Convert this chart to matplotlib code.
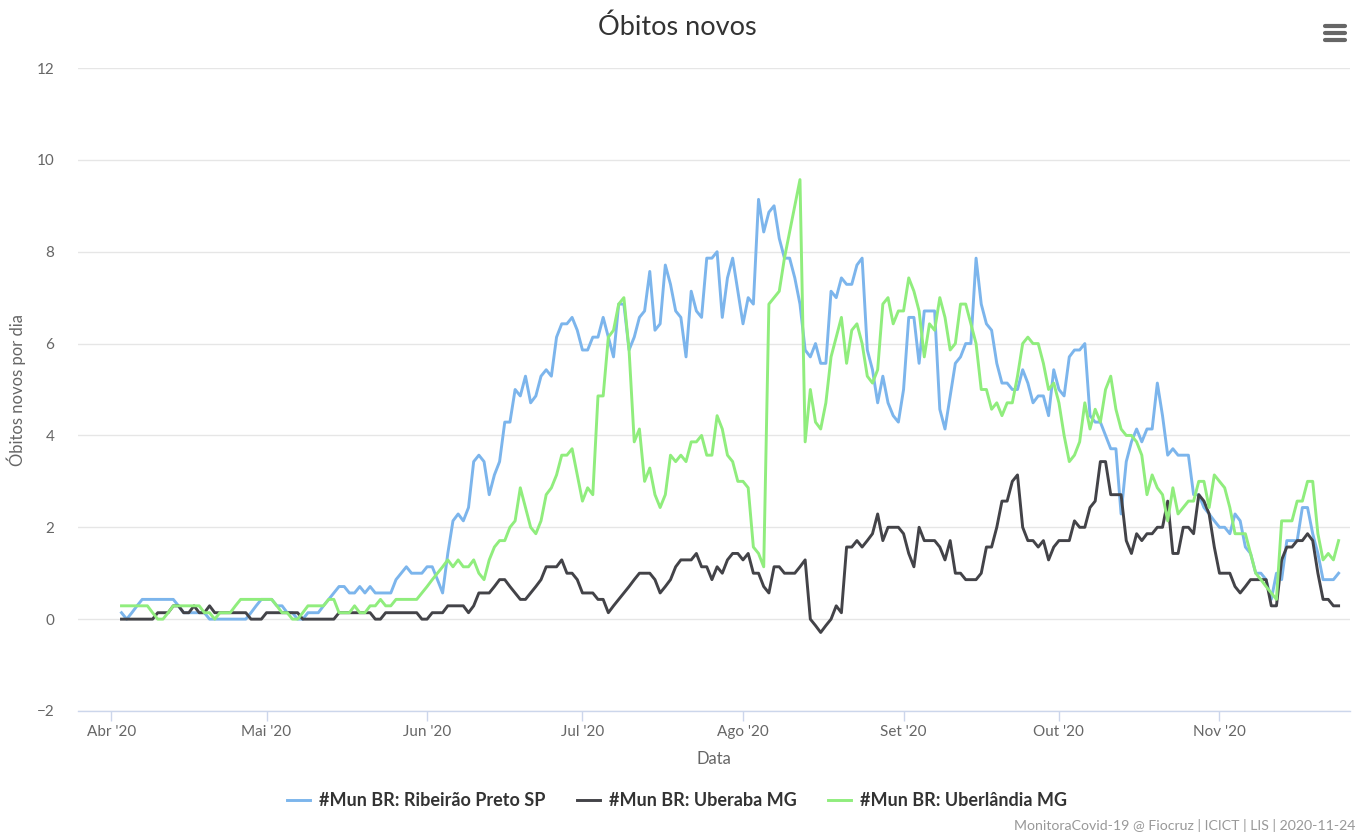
"""
Óbitos novos - média móvel de 7 dias (MonitoraCovid-19)
"""

import numpy as np
import pandas as pd
import matplotlib
matplotlib.use('Agg')
import matplotlib.pyplot as plt
import matplotlib.dates as mdates
from matplotlib.lines import Line2D

plt.rcParams['font.family'] = ['Lato', 'DejaVu Sans']

#Series: daily values from 2020-04-03 to 2020-11-24
START = '2020-04-03'

ribeirao = [
    0.14, 0.00, 0.14, 0.29, 0.43, 0.43, 0.43, 0.43, 0.43, 0.43,
    0.43, 0.29, 0.14, 0.14, 0.14, 0.14, 0.14, 0.00, 0.00, 0.00,
    0.00, 0.00, 0.00, 0.00, 0.00, 0.14, 0.29, 0.43, 0.43, 0.43,
    0.29, 0.29, 0.14, 0.14, 0.00, 0.00, 0.14, 0.14, 0.14, 0.29,
    0.43, 0.57, 0.71, 0.71, 0.57, 0.57, 0.71, 0.57, 0.71, 0.57,
    0.57, 0.57, 0.57, 0.86, 1.00, 1.14, 1.00, 1.00, 1.00, 1.14,
    1.14, 0.86, 0.57, 1.43, 2.14, 2.29, 2.14, 2.43, 3.43, 3.57,
    3.43, 2.71, 3.14, 3.43, 4.29, 4.29, 5.00, 4.86, 5.29, 4.71,
    4.86, 5.29, 5.43, 5.29, 6.14, 6.43, 6.43, 6.57, 6.29, 5.86,
    5.86, 6.14, 6.14, 6.57, 6.14, 5.71, 6.86, 6.86, 5.86, 6.14,
    6.57, 6.71, 7.57, 6.29, 6.43, 7.71, 7.29, 6.71, 6.57, 5.71,
    7.14, 6.71, 6.57, 7.86, 7.86, 8.00, 6.57, 7.43, 7.86, 7.14,
    6.43, 7.00, 6.86, 9.14, 8.43, 8.86, 9.00, 8.29, 7.86, 7.86,
    7.43, 6.86, 5.86, 5.71, 6.00, 5.57, 5.57, 7.14, 7.00, 7.43,
    7.29, 7.29, 7.71, 7.86, 5.86, 5.43, 4.71, 5.29, 4.71, 4.43,
    4.29, 5.00, 6.57, 6.57, 5.57, 6.71, 6.71, 6.71, 4.57, 4.14,
    4.86, 5.57, 5.71, 6.00, 6.00, 7.86, 6.86, 6.43, 6.29, 5.57,
    5.14, 5.14, 5.00, 5.00, 5.43, 5.14, 4.71, 4.86, 4.86, 4.43,
    5.43, 5.00, 4.86, 5.71, 5.86, 5.86, 6.00, 4.43, 4.29, 4.29,
    4.00, 3.71, 3.71, 2.29, 3.43, 3.86, 4.14, 3.86, 4.14, 4.14,
    5.14, 4.43, 3.57, 3.71, 3.57, 3.57, 3.57, 2.71, 2.71, 2.43,
    2.29, 2.14, 2.00, 2.00, 1.86, 2.29, 2.14, 1.57, 1.43, 1.00,
    1.00, 0.86, 0.43, 1.00, 0.86, 1.71, 1.71, 1.71, 2.43, 2.43,
    1.86, 1.43, 0.86, 0.86, 0.86, 1.00,
]

uberaba = [
    0.00, 0.00, 0.00, 0.00, 0.00, 0.00, 0.00, 0.14, 0.14, 0.14,
    0.29, 0.29, 0.14, 0.14, 0.29, 0.14, 0.14, 0.29, 0.14, 0.14,
    0.14, 0.14, 0.14, 0.14, 0.14, 0.00, 0.00, 0.00, 0.14, 0.14,
    0.14, 0.14, 0.14, 0.14, 0.14, 0.00, 0.00, 0.00, 0.00, 0.00,
    0.00, 0.00, 0.14, 0.14, 0.14, 0.14, 0.14, 0.14, 0.14, 0.00,
    0.00, 0.14, 0.14, 0.14, 0.14, 0.14, 0.14, 0.14, 0.00, 0.00,
    0.14, 0.14, 0.14, 0.29, 0.29, 0.29, 0.29, 0.14, 0.29, 0.57,
    0.57, 0.57, 0.71, 0.86, 0.86, 0.71, 0.57, 0.43, 0.43, 0.57,
    0.71, 0.86, 1.14, 1.14, 1.14, 1.29, 1.00, 1.00, 0.86, 0.57,
    0.57, 0.57, 0.43, 0.43, 0.14, 0.29, 0.43, 0.57, 0.71, 0.86,
    1.00, 1.00, 1.00, 0.86, 0.57, 0.71, 0.86, 1.14, 1.29, 1.29,
    1.29, 1.43, 1.14, 1.14, 0.86, 1.14, 1.00, 1.29, 1.43, 1.43,
    1.29, 1.43, 1.00, 1.00, 0.71, 0.57, 1.14, 1.14, 1.00, 1.00,
    1.00, 1.14, 1.29, 0.00, -0.14, -0.29, -0.14, 0.00, 0.29, 0.14,
    1.57, 1.57, 1.71, 1.57, 1.71, 1.86, 2.29, 1.71, 2.00, 2.00,
    2.00, 1.86, 1.43, 1.14, 2.00, 1.71, 1.71, 1.71, 1.57, 1.29,
    1.71, 1.00, 1.00, 0.86, 0.86, 0.86, 1.00, 1.57, 1.57, 2.00,
    2.57, 2.57, 3.00, 3.14, 2.00, 1.71, 1.71, 1.57, 1.71, 1.29,
    1.57, 1.71, 1.71, 1.71, 2.14, 2.00, 2.00, 2.43, 2.57, 3.43,
    3.43, 2.71, 2.71, 2.71, 1.71, 1.43, 1.86, 1.71, 1.86, 1.86,
    2.00, 2.00, 2.57, 1.43, 1.43, 2.00, 2.00, 1.86, 2.71, 2.57,
    2.29, 1.57, 1.00, 1.00, 1.00, 0.71, 0.57, 0.71, 0.86, 0.86,
    0.86, 0.86, 0.29, 0.29, 1.29, 1.57, 1.57, 1.71, 1.71, 1.86,
    1.71, 1.00, 0.43, 0.43, 0.29, 0.29,
]

uberlandia = [
    0.29, 0.29, 0.29, 0.29, 0.29, 0.29, 0.14, 0.00, 0.00, 0.14,
    0.29, 0.29, 0.29, 0.29, 0.29, 0.29, 0.14, 0.14, 0.00, 0.14,
    0.14, 0.14, 0.29, 0.43, 0.43, 0.43, 0.43, 0.43, 0.43, 0.43,
    0.29, 0.14, 0.14, 0.00, 0.00, 0.14, 0.29, 0.29, 0.29, 0.29,
    0.43, 0.43, 0.14, 0.14, 0.14, 0.29, 0.14, 0.14, 0.29, 0.29,
    0.43, 0.29, 0.29, 0.43, 0.43, 0.43, 0.43, 0.43, 0.57, 0.71,
    0.86, 1.00, 1.14, 1.29, 1.14, 1.29, 1.14, 1.14, 1.29, 1.00,
    0.86, 1.29, 1.57, 1.71, 1.71, 2.00, 2.14, 2.86, 2.43, 2.00,
    1.86, 2.14, 2.71, 2.86, 3.14, 3.57, 3.57, 3.71, 3.14, 2.57,
    2.86, 2.71, 4.86, 4.86, 6.14, 6.29, 6.86, 7.00, 5.86, 3.86,
    4.14, 3.00, 3.29, 2.71, 2.43, 2.71, 3.57, 3.43, 3.57, 3.43,
    3.86, 3.86, 4.00, 3.57, 3.57, 4.43, 4.14, 3.57, 3.43, 3.00,
    3.00, 2.86, 1.57, 1.43, 1.14, 6.86, 7.00, 7.14, 7.86, 8.43,
    9.00, 9.57, 3.86, 5.00, 4.29, 4.14, 4.71, 5.71, 6.14, 6.57,
    5.57, 6.29, 6.43, 6.00, 5.29, 5.14, 5.43, 6.86, 7.00, 6.43,
    6.71, 6.71, 7.43, 7.14, 6.71, 5.71, 6.43, 6.29, 7.00, 6.57,
    5.86, 6.00, 6.86, 6.86, 6.43, 6.00, 5.00, 5.00, 4.57, 4.71,
    4.43, 4.71, 4.71, 5.29, 6.00, 6.14, 6.00, 6.00, 5.57, 5.00,
    5.14, 4.71, 4.00, 3.43, 3.57, 3.86, 4.71, 4.14, 4.57, 4.29,
    5.00, 5.29, 4.57, 4.14, 4.00, 4.00, 3.86, 3.57, 2.71, 3.14,
    2.86, 2.71, 2.14, 2.86, 2.29, 2.43, 2.57, 2.57, 3.00, 3.00,
    2.43, 3.14, 3.00, 2.86, 2.43, 1.86, 1.86, 1.86, 1.43, 1.00,
    0.86, 0.71, 0.57, 0.43, 2.14, 2.14, 2.14, 2.57, 2.57, 3.00,
    3.00, 1.86, 1.29, 1.43, 1.29, 1.71,
]

series_names = ['#Mun BR: Ribeirão Preto SP', '#Mun BR: Uberaba MG',
                '#Mun BR: Uberlândia MG']
colors = ['#7cb5ec', '#434348', '#90ed7d']

month_ticks = ['2020-04-01', '2020-05-01', '2020-06-01', '2020-07-01',
               '2020-08-01', '2020-09-01', '2020-10-01', '2020-11-01']
month_labels = ["Abr '20", "Mai '20", "Jun '20", "Jul '20",
                "Ago '20", "Set '20", "Out '20", "Nov '20"]

#Dates
dates = pd.date_range(START, periods=len(ribeirao), freq='D')

#Figure
fig = plt.figure(figsize=(13.62, 8.34), dpi=100)
ax = fig.add_axes([78/1362, 1 - 711/834, (1350 - 78)/1362, (711 - 68)/834])

for vals, name, col in zip([ribeirao, uberaba, uberlandia], series_names, colors):
    ax.plot(dates, vals, color=col, lw=2.1, label=name, solid_joinstyle='round')

#Axes
ax.set_ylim(-2, 12)
ax.set_yticks(np.arange(-2, 13, 2))
x0 = mdates.date2num(pd.Timestamp('2020-04-01'))
ax.set_xlim(x0 - 6.4, x0 + 239.2)
ax.set_xticks(pd.to_datetime(month_ticks))
ax.set_xticklabels(month_labels)

ax.grid(axis='y', color='#e6e6e6', lw=1)
ax.set_axisbelow(True)
for s in ['left', 'right', 'top']:
    ax.spines[s].set_visible(False)
ax.spines['bottom'].set_color('#ccd6eb')
ax.spines['bottom'].set_linewidth(1)
ax.tick_params(axis='y', length=0, pad=17, labelsize=11, labelcolor='#666666')
ax.tick_params(axis='x', length=7, width=1, color='#ccd6eb', pad=3,
               labelsize=11, labelcolor='#666666')

ax.set_xlabel('Data', fontsize=12, color='#666666', labelpad=9)
ax.set_ylabel('Óbitos novos por dia', fontsize=12, color='#666666', labelpad=8)

#Title
fig.text(677/1362, 1 - 27/834, 'Óbitos novos', ha='center', va='center',
         fontsize=19.5, color='#333333')

#Menu icon
for yy in [26, 33, 40]:
    fig.add_artist(Line2D([1325/1362, 1345/1362], [1 - yy/834, 1 - yy/834],
                          color='#666666', lw=3, solid_capstyle='round'))

#Legend
fig.legend(loc='center', bbox_to_anchor=(677/1362, 1 - 801/834), ncol=3,
           frameon=False, handlelength=1.3, handletextpad=0.5,
           columnspacing=1.7, prop={'weight': 'bold', 'size': 13})
for t in fig.legends[0].get_texts():
    t.set_color('#333333')

#Footer
fig.text(1355/1362, 1 - 826/834, 'MonitoraCovid-19 @ Fiocruz | ICICT | LIS | 2020-11-24',
         ha='right', va='center', fontsize=10.2, color='#999999')

plt.savefig('out.png', dpi=100)
